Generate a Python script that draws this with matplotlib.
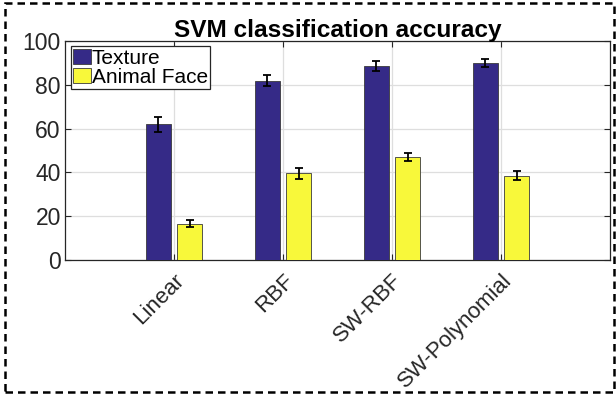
import matplotlib
matplotlib.use("Agg")
import matplotlib.pyplot as plt
from matplotlib.patches import Rectangle
import numpy as np

plt.rcParams['font.family'] = ['Liberation Sans', 'DejaVu Sans']

categories = ["Linear", "RBF", "SW-RBF", "SW-Polynomial"]
series_names = ["Texture", "Animal Face"]
texture = [62.0, 81.9, 88.6, 90.0]
texture_err = [3.5, 2.5, 2.2, 2.0]
animal = [16.6, 39.6, 46.9, 38.5]
animal_err = [1.7, 2.6, 1.8, 2.0]
yticks = [0, 20, 40, 60, 80, 100]

blue = "#352A87"
yellow = "#F8F83A"
edge = "#3a3a3a"
txt = "#262626"

fig = plt.figure(figsize=(6.16, 3.95), dpi=100)
ax = fig.add_axes([65/616, 1-260/395, (610-65)/616, (260-41)/395])

x = np.arange(1, len(categories) + 1)
w = 0.229
off = 0.143
ax.bar(x - off, texture, w, color=blue, edgecolor=edge, linewidth=0.6,
       label=series_names[0], zorder=3)
ax.bar(x + off, animal, w, color=yellow, edgecolor=edge, linewidth=0.6,
       label=series_names[1], zorder=3)
ax.errorbar(x - off, texture, yerr=texture_err, fmt='none', ecolor='black',
            elinewidth=1.3, capsize=2.6, capthick=1.3, zorder=4)
ax.errorbar(x + off, animal, yerr=animal_err, fmt='none', ecolor='black',
            elinewidth=1.3, capsize=2.6, capthick=1.3, zorder=4)

ax.set_xlim(0, 5)
ax.set_ylim(0, 100)
ax.set_xticks(x)
ax.set_xticklabels(categories, rotation=45, ha='right', rotation_mode='anchor',
                   fontsize=16, color=txt)
ax.set_yticks(yticks)
ax.set_yticklabels([str(v) for v in yticks], fontsize=16.5, color=txt)
ax.tick_params(direction='in', length=4, width=0.8, color=txt,
               top=True, right=True, pad=3)
ax.tick_params(axis='x', pad=7)
ax.grid(True, color='#dedede', linewidth=0.9, zorder=0)
ax.set_axisbelow(True)
for s in ax.spines.values():
    s.set_color(txt)
    s.set_linewidth(0.9)

ax.set_title("SVM classification accuracy", fontsize=17.6, fontweight='bold', pad=3)

leg = ax.legend(loc='upper left', bbox_to_anchor=(0.011, 0.975), fontsize=15,
                handlelength=0.82, handleheight=0.72, handletextpad=0.05,
                borderpad=0.12, labelspacing=0.0, borderaxespad=0,
                fancybox=False, framealpha=1, edgecolor=txt)
leg.get_frame().set_linewidth(0.9)

fig.patches.append(Rectangle((5/616, 3/395), 609/616, 389/395, transform=fig.transFigure,
                             fill=False, edgecolor='black', linewidth=1.8,
                             linestyle=(0, (3, 2))))

fig.savefig("out.png", dpi=100)
